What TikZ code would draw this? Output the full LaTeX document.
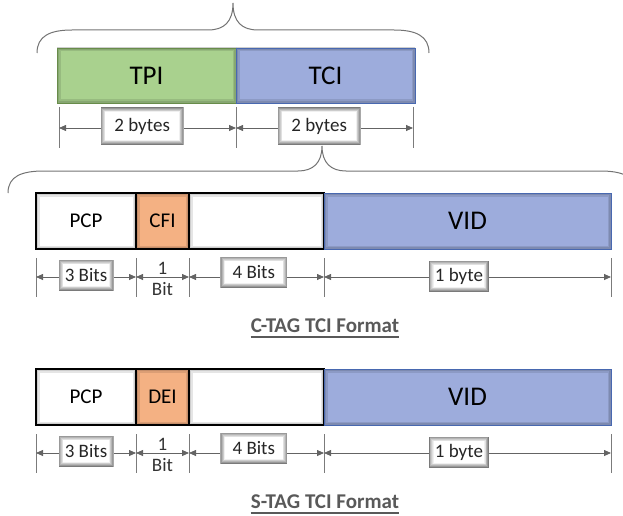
\documentclass[tikz,border=0pt]{standalone}
\usepackage{fontspec}
\setmainfont{Carlito}
\usepackage{xcolor}
\usepackage{tikz}
\usetikzlibrary{positioning,arrows.meta}
\definecolor{tpicolor}{RGB}{169,209,142}
\definecolor{tpiedge}{RGB}{104,140,74}
\definecolor{tcicolor}{RGB}{157,172,220}
\definecolor{tciedge}{RGB}{72,104,176}
\definecolor{flagcolor}{RGB}{244,177,131}
\definecolor{dimcolor}{RGB}{100,100,100}
\definecolor{titlecolor}{RGB}{89,89,89}

\begin{document}
\begin{tikzpicture}[
    x=1pt, y=-1pt,
    field/.style={rectangle, draw=black, line width=1.2pt, minimum height=56pt, inner sep=0pt, outer sep=0pt, font=\fontsize{21}{24}\selectfont,
        path picture={
            \draw[black, opacity=0.10, line width=7pt] (path picture bounding box.south west) rectangle (path picture bounding box.north east);
            \draw[black, opacity=0.10, line width=3.5pt] (path picture bounding box.south west) rectangle (path picture bounding box.north east);
        }},
    bigfield/.style={field, font=\fontsize{27}{30}\selectfont, line width=0.8pt},
    lbl/.style={rectangle, fill=white, inner xsep=5pt, inner ysep=0pt, minimum height=31pt, font=\fontsize{19}{21}\selectfont, text=black!85,
        path picture={
            \foreach \d/\c in {0/52,0.8/40,1.6/29,2.4/20,3.2/12,4/6,4.8/0}
                \fill[black!\c] ([shift={(\d pt,\d pt)}]path picture bounding box.south west) rectangle ([shift={(-\d pt,-\d pt)}]path picture bounding box.north east);
        }},
    bitnum/.style={inner sep=0pt, font=\fontsize{19}{21}\selectfont, text=black!80},
    dimtick/.style={draw=dimcolor!85, line width=0.8pt},
    dimline/.style={{Triangle[length=7pt,width=6pt]}-{Triangle[length=7pt,width=6pt]}, draw=dimcolor, line width=0.8pt},
    bracepath/.style={draw=black!55, line width=1pt},
    fmttitle/.style={inner sep=0pt, font=\fontsize{21}{24}\selectfont\bfseries, text=titlecolor},
    fmtrule/.style={draw=titlecolor, line width=1.4pt}
]
\useasboundingbox (0,0) rectangle (623,516);

% Top: tag header
\node[bigfield, fill=tpicolor, draw=tpiedge, minimum width=179pt, minimum height=55pt, anchor=north west] (tpi) at (57,48) {TPI};
\node[bigfield, fill=tcicolor, draw=tciedge, minimum width=179pt, minimum height=55pt, right=0pt of tpi] (tci) {TCI};

% Brace over the whole tag
\draw[bracepath] (37,53) .. controls (37,36) and (50,30) .. (72,30) -- (208,30) .. controls (224,30) and (233,22) .. (233,3) .. controls (233,22) and (242,30) .. (258,30) -- (394,30) .. controls (416,30) and (429,36) .. (429,53);

% Sizes - header
\draw[dimtick] ([shift={(2pt,-4pt)}]tpi.south west) -- ++(0,41);
\draw[dimtick] ([yshift=-4pt]tpi.south east) -- ++(0,41);
\draw[dimtick] ([shift={(-2pt,-4pt)}]tci.south east) -- ++(0,41);
\draw[dimline] ([shift={(2pt,-25pt)}]tpi.south west) -- node[lbl, pos=0.47, minimum width=83pt, minimum height=37pt, yshift=2pt] (tpi_len) {2 bytes} ([yshift=-25pt]tpi.south east);
\draw[dimline] ([yshift=-25pt]tci.south west) -- node[lbl, pos=0.47, minimum width=83pt, minimum height=37pt, yshift=2pt] (tci_len) {2 bytes} ([shift={(-2pt,-25pt)}]tci.south east);

% Brace under TCI
\draw[bracepath] (8,193) .. controls (8,176) and (22,171) .. (44,171) -- (298,171) .. controls (313,171) and (322,163) .. (322,146) .. controls (322,163) and (331,171) .. (346,171) -- (600,171) .. controls (622,171) and (636,176) .. (636,193);

% C-TAG TCI
\node[field, fill=white, minimum width=100pt, anchor=north west] (pcp_c) at (36,193) {PCP};
\node[field, fill=flagcolor, minimum width=53pt, right=0pt of pcp_c] (cfi_c) {CFI};
\node[field, fill=white, minimum width=135pt, right=0pt of cfi_c] (rest_c) {};
\node[bigfield, fill=tcicolor, draw=tciedge, minimum width=287pt, right=0pt of rest_c] (vid_c) {VID};

\draw[dimtick] ([yshift=-9pt]pcp_c.south west) -- ++(0,39);
\draw[dimtick] ([yshift=-9pt]pcp_c.south east) -- ++(0,39);
\draw[dimtick] ([yshift=-9pt]cfi_c.south east) -- ++(0,39);
\draw[dimtick] ([yshift=-9pt]rest_c.south east) -- ++(0,39);
\draw[dimtick] ([yshift=-9pt]vid_c.south east) -- ++(0,39);

\draw[dimline] ([yshift=-28pt]pcp_c.south west) -- node[lbl, minimum width=55pt, yshift=2pt] (pcp_c_len) {3 Bits} ([yshift=-28pt]pcp_c.south east);
\draw[dimline] ([yshift=-28pt]cfi_c.south west) -- node[bitnum, above=2pt] (cfi_c_len) {1} node[bitnum, below=5pt] (cfi_c_unit) {Bit} ([yshift=-28pt]cfi_c.south east);
\draw[dimline] ([yshift=-28pt]rest_c.south west) -- node[lbl, pos=0.48, minimum width=67pt, yshift=5pt] (rest_c_len) {4 Bits} ([yshift=-28pt]rest_c.south east);
\draw[dimline] ([yshift=-28pt]vid_c.south west) -- node[lbl, pos=0.47, minimum width=60pt, yshift=1pt] (vid_c_len) {1 byte} ([yshift=-28pt]vid_c.south east);

\node[fmttitle] (ctag_title) at (325,325.5) {C-TAG TCI Format};
\draw[fmtrule] ([yshift=-4.5pt]ctag_title.base west) -- ([yshift=-4.5pt]ctag_title.base east);

% S-TAG TCI
\node[field, fill=white, minimum width=100pt, anchor=north west] (pcp_s) at (36,369) {PCP};
\node[field, fill=flagcolor, minimum width=53pt, right=0pt of pcp_s] (dei_s) {DEI};
\node[field, fill=white, minimum width=135pt, right=0pt of dei_s] (rest_s) {};
\node[bigfield, fill=tcicolor, draw=tciedge, minimum width=287pt, right=0pt of rest_s] (vid_s) {VID};

\draw[dimtick] ([yshift=-9pt]pcp_s.south west) -- ++(0,39);
\draw[dimtick] ([yshift=-9pt]pcp_s.south east) -- ++(0,39);
\draw[dimtick] ([yshift=-9pt]dei_s.south east) -- ++(0,39);
\draw[dimtick] ([yshift=-9pt]rest_s.south east) -- ++(0,39);
\draw[dimtick] ([yshift=-9pt]vid_s.south east) -- ++(0,39);

\draw[dimline] ([yshift=-28pt]pcp_s.south west) -- node[lbl, minimum width=55pt, yshift=2pt] (pcp_s_len) {3 Bits} ([yshift=-28pt]pcp_s.south east);
\draw[dimline] ([yshift=-28pt]dei_s.south west) -- node[bitnum, above=2pt] (dei_s_len) {1} node[bitnum, below=5pt] (dei_s_unit) {Bit} ([yshift=-28pt]dei_s.south east);
\draw[dimline] ([yshift=-28pt]rest_s.south west) -- node[lbl, pos=0.48, minimum width=67pt, yshift=5pt] (rest_s_len) {4 Bits} ([yshift=-28pt]rest_s.south east);
\draw[dimline] ([yshift=-28pt]vid_s.south west) -- node[lbl, pos=0.47, minimum width=60pt, yshift=1pt] (vid_s_len) {1 byte} ([yshift=-28pt]vid_s.south east);

\node[fmttitle] (stag_title) at (325,501.5) {S-TAG TCI Format};
\draw[fmtrule] ([yshift=-4.5pt]stag_title.base west) -- ([yshift=-4.5pt]stag_title.base east);

\end{tikzpicture}
\end{document}
